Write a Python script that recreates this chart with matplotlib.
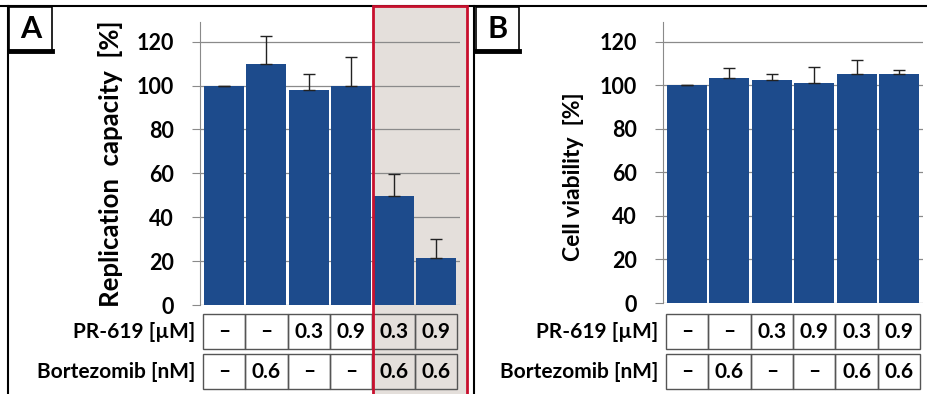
import matplotlib
matplotlib.use("Agg")
import matplotlib.pyplot as plt
from matplotlib.patches import Rectangle
from matplotlib.lines import Line2D
import matplotlib.transforms as mtransforms

plt.rcParams['font.family'] = ['Lato', 'DejaVu Sans']

# data
conditions = [0, 1, 2, 3, 4, 5]
replication = [100, 110, 98, 100, 49.5, 21.5]
replication_err = [0, 12.5, 7.5, 13, 10, 8.5]
viability = [100, 103.5, 102.5, 101, 105, 105]
viability_err = [0, 4.5, 2.5, 7.5, 6.5, 2]
pr619 = ['–', '–', '0.3', '0.9', '0.3', '0.9']
bortezomib = ['–', '0.6', '–', '–', '0.6', '0.6']
row_labels = ['PR-619 [µM]', 'Bortezomib [nM]']
yticks = [0, 20, 40, 60, 80, 100, 120]

W, H = 928, 394
bar_color = '#1d4b8c'
grid_color = '#8a8a8a'

fig = plt.figure(figsize=(W / 100, H / 100), dpi=100)

# grey highlight with red frame (behind panel A bars)
fig.patches.append(Rectangle((373 / W, 0), 94 / W, 1 - 6 / H, transform=fig.transFigure,
                             facecolor='#e4dfdb', edgecolor='none', zorder=-5))
fig.patches.append(Rectangle((373 / W, -0.05), 94 / W, 1.05 - 6 / H, transform=fig.transFigure,
                             facecolor='none', edgecolor='#c8102e', lw=2, zorder=10))

# frame lines
fig.lines.append(Line2D([0, 1], [1 - 6 / H] * 2, transform=fig.transFigure, color='black', lw=1.5))
fig.lines.append(Line2D([8 / W] * 2, [0, 1 - 6 / H], transform=fig.transFigure, color='black', lw=1.5))
fig.lines.append(Line2D([474 / W] * 2, [0, 1 - 6 / H], transform=fig.transFigure, color='black', lw=1.5))


def panel(left_px, bottom_px, values, errs, ylabel, label_y, label_size, letter, box_x):
    ax = fig.add_axes([left_px / W, 1 - bottom_px / H, 260 / W, (bottom_px - 22) / H])
    ax.set_facecolor('none')
    ax.bar(conditions, values, width=0.94, color=bar_color, zorder=3)
    ax.errorbar(conditions, values, yerr=[[0] * 6, errs], fmt='none', ecolor='#222222',
                elinewidth=1, capsize=4, capthick=1, zorder=4)
    ax.set_ylim(0, 129)
    ax.set_xlim(-0.56, 5.56)
    ax.set_yticks(yticks)
    ax.yaxis.grid(True, color=grid_color, lw=0.9, zorder=1)
    ax.set_xticks([])
    for s in ['top', 'right', 'bottom']:
        ax.spines[s].set_visible(False)
    ax.spines['left'].set_color(grid_color)
    ax.tick_params(axis='y', length=6, color=grid_color, pad=13, labelsize=15.5)
    for t in ax.get_yticklabels():
        t.set_fontweight('bold')
    ax.text(-0.345, label_y, ylabel, transform=ax.transAxes, rotation=90, ha='center',
            va='center', fontsize=label_size, fontweight='bold')

    # condition table under bars
    trans = mtransforms.blended_transform_factory(ax.transData, ax.transAxes)
    ax_h = bottom_px - 22
    rows = [(pr619, 314, 349), (bortezomib, 354, 389)]
    for (vals, top, bot), lab in zip(rows, row_labels):
        y0 = (bottom_px - bot) / ax_h
        y1 = (bottom_px - top) / ax_h
        for i, v in zip(conditions, vals):
            ax.add_patch(Rectangle((i - 0.5, y0), 1, y1 - y0, transform=trans, clip_on=False,
                                   facecolor='none', edgecolor='#555555', lw=1))
            ax.text(i, (y0 + y1) / 2, v, transform=trans, ha='center', va='center',
                    fontsize=15, fontweight='bold', clip_on=False)
        ax.text(-0.68, (y0 + y1) / 2, lab, transform=trans, ha='right', va='center',
                fontsize=15, fontweight='bold', clip_on=False)

    # panel letter box
    fig.patches.append(Rectangle((box_x / W, 1 - 52 / H), 43 / W, 45 / H, transform=fig.transFigure,
                                 facecolor='white', edgecolor='black', lw=1.2, zorder=5))
    fig.lines.append(Line2D([box_x / W, (box_x + 43) / W], [1 - 51 / H] * 2,
                            transform=fig.transFigure, color='black', lw=3.5, zorder=6))
    fig.text((box_x + 21.5) / W, 1 - 29 / H, letter, ha='center', va='center',
             fontsize=22, fontweight='bold', zorder=7)
    return ax


panel(200, 305, replication, replication_err, 'Replication  capacity  [%]', 0.5, 18.5, 'A', 9)
panel(663, 303, viability, viability_err, 'Cell viability  [%]', 0.45, 16.5, 'B', 476)

fig.savefig('out.png', dpi=100)
